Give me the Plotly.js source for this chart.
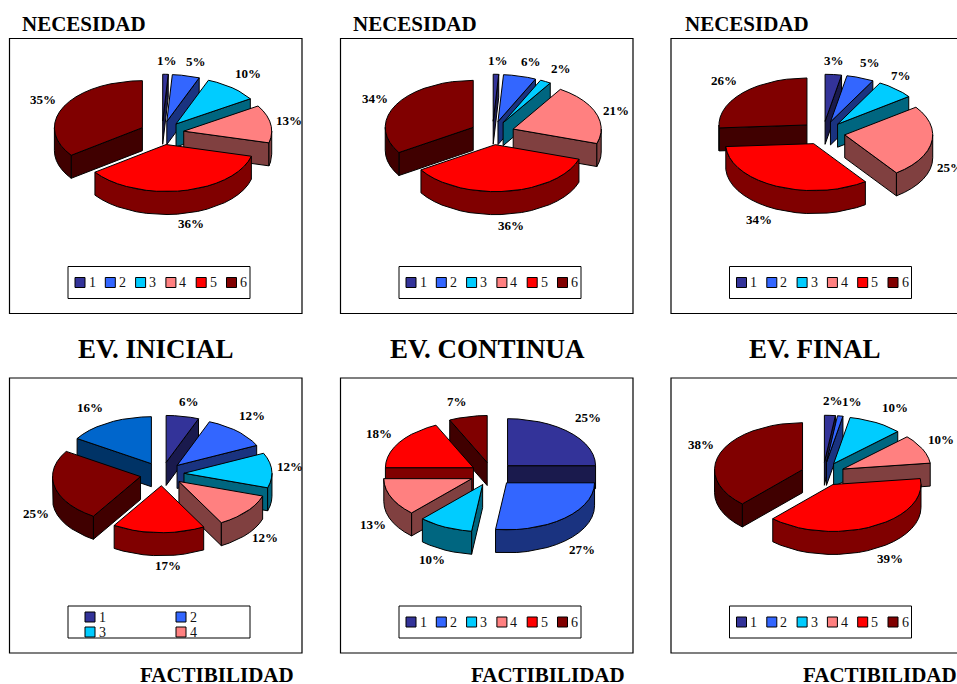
<!DOCTYPE html>
<html>
<head>
<meta charset="utf-8">
<script src="https://cdn.plot.ly/plotly-3.0.1.min.js"></script>
<style>html,body{margin:0;padding:0;background:#fff;overflow:hidden}#chart{width:957px;height:684px}</style>
</head>
<body>
<div id="chart"></div>
<script>
// Percentages for each survey item, one list per chart
const necesidadInicial = [1, 5, 10, 13, 36, 35];
const necesidadContinua = [1, 6, 2, 21, 36, 34];
const necesidadFinal = [3, 5, 7, 25, 34, 26];
const factibilidadInicial = [6, 12, 12, 12, 17, 25, 16];
const factibilidadContinua = [25, 27, 10, 13, 18, 7];
const factibilidadFinal = [2, 1, 10, 10, 39, 38];

const legendSix = ['1', '2', '3', '4', '5', '6'];
const legendFour = ['1', '2', '3', '4'];

const topColors = ['#333399', '#3366ff', '#00ccff', '#ff8080', '#ff0000', '#800000', '#0066cc'];
const sideColors = ['#1a1a4d', '#1a3380', '#006680', '#804040', '#800000', '#400000', '#003366'];

const W = 957, H = 684;
const SERIF = '"Liberation Serif", "Times New Roman", serif';
const PANEL_W = 292.5, PANEL_H = 275;
const RX = 88, RY = 47, DEPTH = 23, PULL = 22;
const rad = d => d * Math.PI / 180;

// Frame, pie centre and outside-label centres (page pixels) of each panel
const panels = [
  {vals: necesidadInicial, x0: 9.5, y0: 38.5, cx: 162, cy: 133,
   labels: [[167,60],[196,61],[248,73],[289,120],[191,223],[43,99]]},
  {vals: necesidadContinua, x0: 340.5, y0: 38.5, cx: 492.5, cy: 133,
   labels: [[498,60],[531,61],[561,68],[616,110],[511,225],[375,98]]},
  {vals: necesidadFinal, x0: 671, y0: 38.5, cx: 823, cy: 133,
   labels: [[834,60],[870,62],[901,75],[950,167],[759,219],[724,80]]},
  {vals: factibilidadInicial, x0: 9.5, y0: 378, cx: 162, cy: 474,
   labels: [[189,401],[252,415],[290,466],[265,537],[168,565],[36,513],[90,407]]},
  {vals: factibilidadContinua, x0: 340.5, y0: 378, cx: 492, cy: 474,
   labels: [[588,417],[582,549],[432,559],[373,524],[379,433],[457,401]]},
  {vals: factibilidadFinal, x0: 671, y0: 378, cx: 823, cy: 474,
   labels: [[833,400],[852,401],[895,407],[941,439],[890,558],[701,444]]}
];

const headings = [
  ['NECESIDAD', 84, 24, 21], ['NECESIDAD', 415, 24, 21], ['NECESIDAD', 747, 24, 21],
  ['EV. INICIAL', 155.5, 349, 27], ['EV. CONTINUA', 487.5, 349, 27], ['EV. FINAL', 815, 349, 27],
  ['FACTIBILIDAD', 216.5, 675, 21], ['FACTIBILIDAD', 548, 675, 21], ['FACTIBILIDAD', 879.5, 675, 21]
];

const traces = [], shapes = [], annotations = [];
const layout = {
  width: W, height: H, showlegend: false, hovermode: false,
  margin: {l: 0, r: 0, t: 0, b: 0}, paper_bgcolor: '#fff', plot_bgcolor: '#fff',
  shapes, annotations
};

function polygon(xs, ys, color, xa, ya) {
  traces.push({
    type: 'scatter', mode: 'lines', x: xs.concat(xs[0]), y: ys.concat(ys[0]),
    xaxis: xa, yaxis: ya, fill: 'toself', fillcolor: color,
    line: {color: '#000', width: 1}, hoverinfo: 'skip'
  });
}

function arc(ax, ay, from, to) {
  const n = Math.max(2, Math.ceil((to - from) / 7));
  const xs = [], ys = [];
  for (let i = 0; i <= n; i++) {
    const t = rad(from + (to - from) * i / n);
    xs.push(ax + RX * Math.sin(t));
    ys.push(ay - RY * Math.cos(t));
  }
  return [xs, ys];
}

// Draws one tilted pie, clockwise from twelve o'clock, back slices first
function drawPie(p, xa, ya) {
  const total = p.vals.reduce((s, v) => s + v, 0);
  let run = 0;
  const slices = p.vals.map((v, i) => {
    const a = run / total * 360;
    run += v;
    const b = run / total * 360;
    return {i, a, b, m: (a + b) / 2};
  });
  slices.sort((s, t) => Math.cos(rad(t.m)) - Math.cos(rad(s.m)));
  const lx = p.cx - p.x0, ly = p.cy - p.y0;
  slices.forEach(s => {
    const ax = lx + PULL * Math.sin(rad(s.m));
    const ay = ly - PULL * (RY / RX) * Math.cos(rad(s.m));
    const side = sideColors[s.i], top = topColors[s.i];
    const wall = ang => {
      const ex = ax + RX * Math.sin(rad(ang)), ey = ay - RY * Math.cos(rad(ang));
      polygon([ax, ex, ex, ax], [ay, ey, ey + DEPTH, ay + DEPTH], side, xa, ya);
    };
    if (Math.sin(rad(s.a)) < 0) wall(s.a);
    if (Math.sin(rad(s.b)) > 0) wall(s.b);
    const from = Math.max(s.a, 90), to = Math.min(s.b, 270);
    if (to > from) {
      const [ux, uy] = arc(ax, ay, from, to);
      polygon(ux.concat(ux.slice().reverse()),
              uy.concat(uy.slice().reverse().map(y => y + DEPTH)), side, xa, ya);
    }
    const [tx, ty] = arc(ax, ay, s.a, s.b);
    polygon([ax].concat(tx), [ay].concat(ty), top, xa, ya);
  });
}

function drawLegend(names, cols, xa, ya, bx, by) {
  shapes.push({type: 'rect', xref: xa, yref: ya, x0: 58.5, x1: 240.5, y0: 228, y1: 260,
    line: {color: '#000', width: 1}, fillcolor: '#fff', layer: 'below'});
  const step = cols === 2 ? 91 : 30.3;
  const sx = names.map((_, i) => bx + (i % cols) * step);
  const sy = names.map((_, i) => by + Math.floor(i / cols) * 15);
  traces.push({type: 'scatter', mode: 'markers', x: sx, y: sy, xaxis: xa, yaxis: ya,
    marker: {symbol: 'square', size: 10, color: topColors.slice(0, names.length),
             line: {color: '#000', width: 1}}, hoverinfo: 'skip'});
  names.forEach((n, i) => annotations.push({
    xref: xa, yref: ya, x: sx[i] + 12, y: sy[i], text: n, showarrow: false,
    xanchor: 'center', yanchor: 'middle',
    font: {family: SERIF, size: 14, color: '#111'}
  }));
}

panels.forEach((p, k) => {
  const idx = k === 0 ? '' : String(k + 1);
  const xa = 'x' + idx, ya = 'y' + idx;
  const right = Math.min(p.x0 + PANEL_W, W);
  layout['xaxis' + idx] = {domain: [p.x0 / W, right / W], range: [0, right - p.x0],
    visible: false, fixedrange: true, anchor: ya};
  layout['yaxis' + idx] = {domain: [1 - (p.y0 + PANEL_H) / H, 1 - p.y0 / H], range: [PANEL_H, 0],
    visible: false, fixedrange: true, anchor: xa};
  shapes.push({type: 'rect', xref: 'paper', yref: 'paper',
    x0: p.x0 / W, x1: (p.x0 + PANEL_W) / W, y0: 1 - p.y0 / H, y1: 1 - (p.y0 + PANEL_H) / H,
    line: {color: '#000', width: 1.2}, layer: 'below'});
  drawPie(p, xa, ya);
  p.vals.forEach((v, i) => annotations.push({
    xref: xa, yref: ya, x: p.labels[i][0] - p.x0, y: p.labels[i][1] - p.y0,
    text: v + '%', showarrow: false, xanchor: 'center', yanchor: 'middle',
    font: {family: SERIF, size: 13, color: '#000', weight: 700}
  }));
  if (k === 3) drawLegend(legendFour, 2, xa, ya, 80.5, 239);
  else drawLegend(legendSix, 6, xa, ya, 70.5, 244);
});

headings.forEach(([t, x, y, s]) => annotations.push({
  xref: 'paper', yref: 'paper', x: x / W, y: 1 - y / H, text: '<b>' + t + '</b>',
  showarrow: false, xanchor: 'center', yanchor: 'middle',
  font: {family: SERIF, size: s, color: '#000'}
}));

Plotly.newPlot('chart', traces, layout, {displayModeBar: false, staticPlot: true});
</script>
</body>
</html>
